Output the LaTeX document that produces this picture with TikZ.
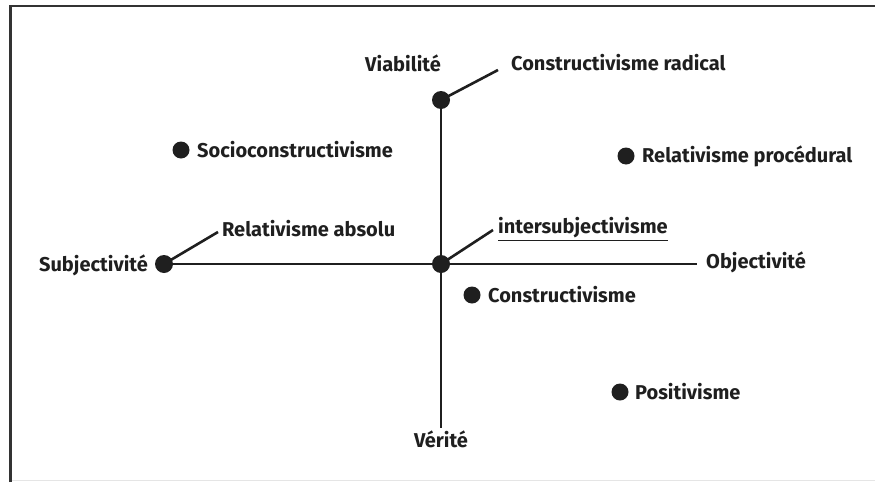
\documentclass[tikz,border=0pt]{standalone}
\usepackage{fontspec}
\setmainfont{Fira Sans}
\begin{document}
\begin{tikzpicture}[x=1pt,y=-1pt,
  dot/.style={circle,fill=black!88,inner sep=0pt,minimum size=18pt},
  sdot/.style={circle,fill=black!88,inner sep=0pt,minimum size=17pt},
  lbl/.style={inner sep=0pt,font=\fontsize{20}{24}\selectfont\bfseries,text=black!88},
  ax/.style={line width=2.6pt,draw=black!88},
  frame/.style={line width=2.6pt,draw=black!80}]
\useasboundingbox (0,0) rectangle (875,482);
\draw[frame] (10.5,482) -- (10.5,6) -- (875,6);
\draw[line width=0.8pt,draw=black!10] (12,480.5) -- (875,480.5);
% axis dots
\node[dot] (top) at (441,100) {};
\node[dot] (ctr) at (441,264) {};
\node[dot] (left) at (164,264) {};
\coordinate (bot) at (441,428);
\coordinate (right) at (697,264);
\draw[ax] (top.center) -- (bot);
\draw[ax] (left.center) -- (right);
% axis labels
\node[lbl,anchor=east] (viab) at (441,63) {Viabilité};
\node[lbl,anchor=north] (verite) at (441,431) {Vérité};
\node[lbl,anchor=east] (subj) at (148,265) {Subjectivité};
\node[lbl,anchor=west] (obj) at (706,262) {Objectivité};
% leaders
\coordinate (lt) at (498,70);
\coordinate (ll) at (218,232);
\coordinate (lc) at (493,230);
\draw[ax] (top.center) -- (lt);
\draw[ax] (left.center) -- (ll);
\draw[ax] (ctr.center) -- (lc);
\node[lbl,anchor=west] (crad) at (511,63) {Constructivisme radical};
\node[lbl,anchor=west] (rabs) at (222,229) {Relativisme absolu};
\node[lbl,anchor=west] (inter) at (498,229) {\underline{intersubjectivisme}};
% free points
\node[sdot] (dsoc) at (181,150) {};
\node[lbl,anchor=west] (soc) at (197,150) {Socioconstructivisme};
\node[sdot] (drel) at (626,156) {};
\node[lbl,anchor=west] (rel) at (642,156) {Relativisme procédural};
\node[sdot] (dcon) at (472,295) {};
\node[lbl,anchor=west] (con) at (488,295) {Constructivisme};
\node[sdot] (dpos) at (620,392) {};
\node[lbl,anchor=west] (pos) at (635,392) {Positivisme};
\end{tikzpicture}
\end{document}
